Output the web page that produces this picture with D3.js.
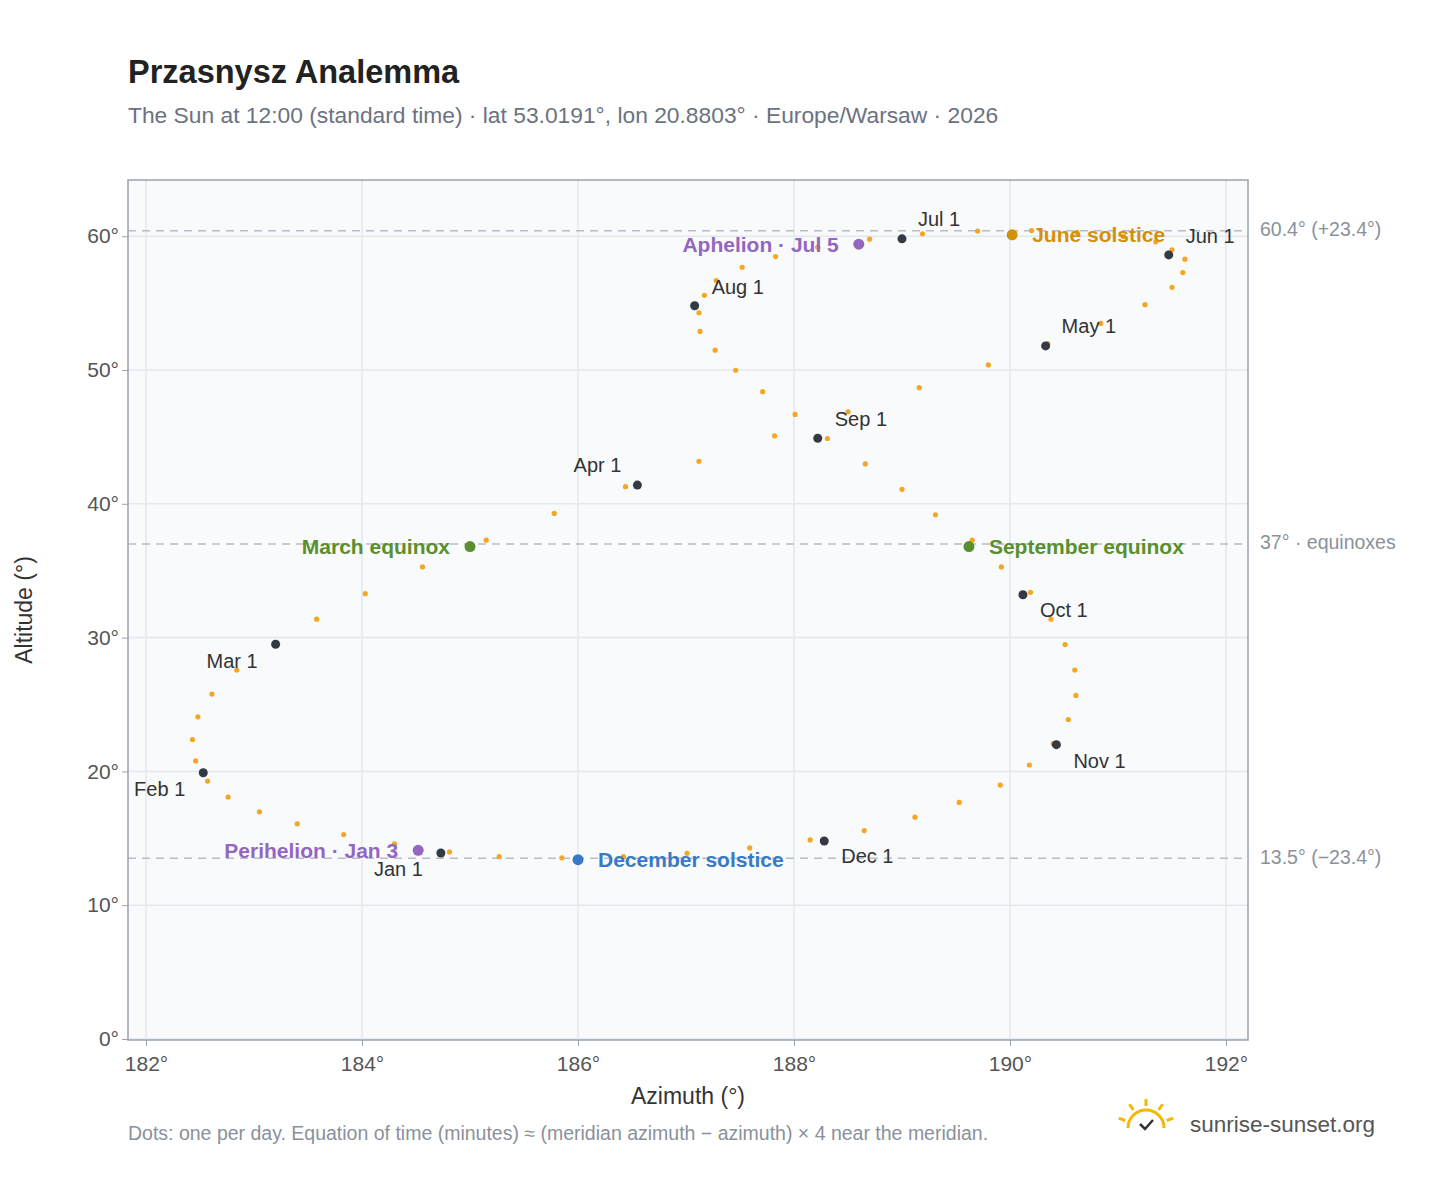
<!DOCTYPE html>
<html><head><meta charset="utf-8">
<script src="https://cdn.jsdelivr.net/npm/d3@7"></script>
<style>body{margin:0;background:#fff;font-family:"Liberation Sans",Arial,sans-serif}</style>
</head><body><svg id="c" width="1448" height="1188"></svg>
<script>
// Estimated positions (every 5 days)
const dates = ["Jan 1","Jan 6","Jan 11","Jan 16","Jan 21","Jan 26","Jan 31","Feb 5","Feb 10","Feb 15","Feb 20","Feb 25","Mar 2","Mar 7","Mar 12","Mar 17","Mar 22","Mar 27","Apr 1","Apr 6","Apr 11","Apr 16","Apr 21","Apr 26","May 1","May 6","May 11","May 16","May 21","May 26","May 31","Jun 5","Jun 10","Jun 15","Jun 20","Jun 25","Jun 30","Jul 5","Jul 10","Jul 15","Jul 20","Jul 25","Jul 30","Aug 4","Aug 9","Aug 14","Aug 19","Aug 24","Aug 29","Sep 3","Sep 8","Sep 13","Sep 18","Sep 23","Sep 28","Oct 3","Oct 8","Oct 13","Oct 18","Oct 23","Oct 28","Nov 2","Nov 7","Nov 12","Nov 17","Nov 22","Nov 27","Dec 2","Dec 7","Dec 12","Dec 17","Dec 22","Dec 27"];
const azimuth = [184.81,184.30,183.83,183.40,183.05,182.76,182.57,182.46,182.43,182.48,182.61,182.84,183.19,183.58,184.03,184.56,185.15,185.78,186.44,187.12,187.82,188.50,189.16,189.80,190.35,190.84,191.25,191.50,191.60,191.62,191.50,191.35,191.05,190.62,190.20,189.70,189.19,188.70,188.22,187.83,187.52,187.28,187.17,187.12,187.13,187.27,187.46,187.71,188.01,188.31,188.66,189.00,189.31,189.65,189.92,190.19,190.38,190.51,190.60,190.61,190.54,190.40,190.18,189.91,189.53,189.12,188.65,188.15,187.59,187.01,186.42,185.85,185.27];
const altitude = [13.98,14.58,15.28,16.08,16.98,18.08,19.28,20.78,22.38,24.08,25.78,27.58,29.48,31.38,33.28,35.28,37.28,39.28,41.28,43.18,45.08,46.88,48.68,50.38,51.98,53.48,54.88,56.18,57.28,58.28,58.98,59.58,59.98,60.28,60.42,60.38,60.18,59.78,59.18,58.48,57.68,56.68,55.58,54.28,52.88,51.48,49.98,48.38,46.68,44.88,42.98,41.08,39.18,37.28,35.28,33.38,31.38,29.48,27.58,25.68,23.88,22.08,20.48,18.98,17.68,16.58,15.58,14.88,14.28,13.88,13.63,13.54,13.63];
const monthLabels = ["Jan 1","Feb 1","Mar 1","Apr 1","May 1","Jun 1","Jul 1","Aug 1","Sep 1","Oct 1","Nov 1","Dec 1"];
const monthAz = [184.73,182.53,183.20,186.55,190.33,191.47,189.00,187.08,188.22,190.12,190.43,188.28];
const monthAlt = [13.9,19.9,29.5,41.4,51.8,58.6,59.8,54.8,44.9,33.2,22.0,14.8];
const monthDx = [-18,-18,-18,-16,16,17,16,17,17,17,17,17];
const monthDy = [18,18,18,-18,-18,-17,-18,-17,-18,17,18,17];
const monthAnchor = ["end","end","end","end","start","start","start","start","start","start","start","start"];
const events = ["June solstice","December solstice","March equinox","September equinox","Perihelion · Jan 3","Aphelion · Jul 5"];
const eventAz = [190.02,186.0,185.0,189.62,184.52,188.6];
const eventAlt = [60.1,13.4,36.8,36.8,14.1,59.4];
const eventColor = ["#d4900a","#3a78c8","#5a8f2e","#5a8f2e","#9466c0","#9466c0"];
const eventAnchor = ["start","start","end","start","end","end"];
const refAlt = [60.4,37,13.5];
const refLabels = ["60.4° (+23.4°)","37° · equinoxes","13.5° (−23.4°)"];
const xTicks = [182,184,186,188,190,192];
const yTicks = [0,10,20,30,40,50,60];

const svg = d3.select("#c");
const L=128,R=1248,T=180,B=1040;
const x = d3.scaleLinear().domain([181.833,192.204]).range([L,R]);
const y = d3.scaleLinear().domain([0,64.2]).range([B-1,T]);

svg.append("text").attr("x",128).attr("y",83).attr("font-size",32.5).attr("font-weight","bold").attr("fill","#222").text("Przasnysz Analemma");
svg.append("text").attr("x",128).attr("y",123).attr("font-size",22.8).attr("fill","#6b7280").text("The Sun at 12:00 (standard time) · lat 53.0191°, lon 20.8803° · Europe/Warsaw · 2026");

svg.append("rect").attr("x",L).attr("y",T).attr("width",R-L).attr("height",B-T).attr("fill","#f8fafc");
const g = svg.append("g");
xTicks.forEach(t=>g.append("line").attr("x1",x(t)).attr("x2",x(t)).attr("y1",T).attr("y2",B).attr("stroke","#e3e8ee").attr("stroke-width",1.5));
yTicks.forEach(t=>g.append("line").attr("x1",L).attr("x2",R).attr("y1",y(t)).attr("y2",y(t)).attr("stroke","#e3e8ee").attr("stroke-width",1.5));
refAlt.forEach((a,i)=>{
  g.append("line").attr("x1",L).attr("x2",R).attr("y1",y(a)).attr("y2",y(a)).attr("stroke","#b8bec8").attr("stroke-width",1.5).attr("stroke-dasharray","8,6");
  g.append("text").attr("x",1260).attr("y",y(a)).attr("dominant-baseline","middle").attr("font-size",19.5).attr("fill","#8a919c").text(refLabels[i]);
});
svg.append("rect").attr("x",L).attr("y",T).attr("width",R-L).attr("height",B-T).attr("fill","none").attr("stroke","#9aa3ae").attr("stroke-width",1.5);

const xa = svg.append("g").attr("transform",`translate(0,${B})`).call(d3.axisBottom(x).tickValues(xTicks).tickFormat(d=>d+"°").tickSize(6));
const ya = svg.append("g").attr("transform",`translate(${L},0)`).call(d3.axisLeft(y).tickValues(yTicks).tickFormat(d=>d+"°").tickSize(6));
[xa,ya].forEach(a=>{a.select(".domain").remove();a.selectAll("line").attr("stroke","#9aa3ae");a.selectAll("text").attr("font-size",21).attr("fill","#555").attr("font-family","Liberation Sans, Arial")});
xa.selectAll("text").attr("dy","1.05em");
svg.append("text").attr("x",688).attr("y",1104).attr("text-anchor","middle").attr("font-size",23).attr("fill","#333").text("Azimuth (°)");
svg.append("text").attr("transform","translate(32,610) rotate(-90)").attr("text-anchor","middle").attr("font-size",23).attr("fill","#333").text("Altitude (°)");

g.selectAll(".d").data(dates).enter().append("circle").attr("cx",(d,i)=>x(azimuth[i])).attr("cy",(d,i)=>y(altitude[i])).attr("r",2.6).attr("fill","#f5a623");

monthLabels.forEach((m,i)=>{
  g.append("circle").attr("cx",x(monthAz[i])).attr("cy",y(monthAlt[i])).attr("r",4.5).attr("fill","#333a44");
  g.append("text").attr("x",x(monthAz[i])+monthDx[i]).attr("y",y(monthAlt[i])+monthDy[i]).attr("dominant-baseline","middle").attr("text-anchor",monthAnchor[i]).attr("font-size",20).attr("fill","#333").text(m);
});
events.forEach((e,i)=>{
  g.append("circle").attr("cx",x(eventAz[i])).attr("cy",y(eventAlt[i])).attr("r",5.5).attr("fill",eventColor[i]);
  const dx = eventAnchor[i]==="start"?20:-20;
  g.append("text").attr("x",x(eventAz[i])+dx).attr("y",y(eventAlt[i])+2).attr("dominant-baseline","middle").attr("text-anchor",eventAnchor[i]).attr("font-size",21).attr("font-weight","bold").attr("fill",eventColor[i]).text(e);
});

svg.append("text").attr("x",128).attr("y",1140).attr("font-size",19.5).attr("fill","#8a919c").text("Dots: one per day. Equation of time (minutes) ≈ (meridian azimuth − azimuth) × 4 near the meridian.");
const lg = svg.append("g").attr("transform","translate(1146,1124)");
lg.append("path").attr("d","M-18,4 A18,18 0 0 1 18,4").attr("fill","none").attr("stroke","#f5b800").attr("stroke-width",3);
[-70,-35,0,35,70].forEach(a=>{const r=a*Math.PI/180;lg.append("line").attr("x1",Math.sin(r)*22).attr("y1",-Math.cos(r)*22+4).attr("x2",Math.sin(r)*29).attr("y2",-Math.cos(r)*29+4).attr("stroke","#f5b800").attr("stroke-width",3)});
lg.append("path").attr("d","M-6,0 L-1,5 L7,-4").attr("fill","none").attr("stroke","#333").attr("stroke-width",2.5);
svg.append("text").attr("x",1190).attr("y",1132).attr("font-size",22.5).attr("fill","#555").text("sunrise-sunset.org");
</script></body></html>
